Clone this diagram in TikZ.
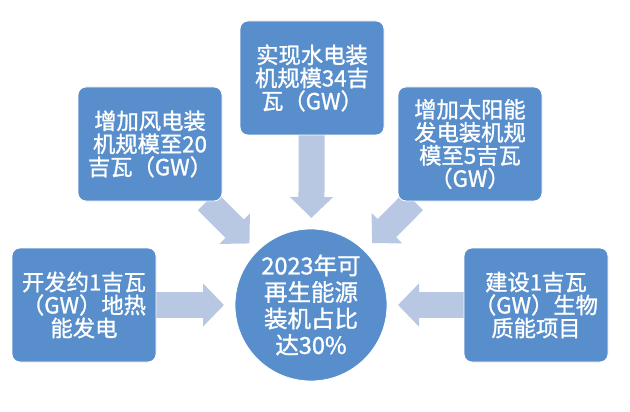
\documentclass[tikz,border=0pt]{standalone}
\usepackage{fontspec}
\setmainfont{Noto Sans CJK SC}[FakeBold=1.2]
\usetikzlibrary{arrows.meta}
\usepackage{xcolor}
\definecolor{boxblue}{RGB}{88,142,203}
\definecolor{flowblue}{RGB}{184,199,226}
\pgfdeclarelayer{background}
\pgfsetlayers{background,main}

\begin{document}
\begin{tikzpicture}[x=1pt,y=-1pt,
  goalbox/.style={rectangle, rounded corners=8pt, fill=boxblue, draw=white, line width=0.8pt,
    minimum width=144pt, minimum height=114pt, inner sep=0pt, outer sep=0pt, align=center,
    text=white, font=\fontsize{22.3}{23}\selectfont},
  target/.style={circle, fill=boxblue, draw=white, line width=0.8pt, minimum size=152pt,
    inner sep=0pt, outer sep=0pt, align=center, text=white, font=\fontsize{23.5}{26.5}\selectfont},
  flow/.style={line width=26pt, flowblue, -{Triangle[length=21pt,width=42pt]}, shorten >=11pt}]
  \useasboundingbox (0,0) rectangle (630,412);

  \node[target] (goal) at (311,305) {2023年可\\再生能源\\装机占比\\达30\%};

  \node[goalbox] (hydro) at (312,78) {实现水电装\\机规模34吉\\瓦（GW）};
  \node[goalbox] (wind) at (150,144) {增加风电装\\机规模至20\\吉瓦（GW）};
  \node[goalbox] (solar) at (470,144) {增加太阳能\\发电装机规\\模至5吉瓦\\（GW）};
  \node[goalbox] (geo) at (84,305) {开发约1吉瓦\\（GW）地热\\能发电};
  \node[goalbox] (bio) at (536,305) {建设1吉瓦\\（GW）生物\\质能项目};

  % block arrows into the circle
  \begin{pgfonlayer}{background}
    \foreach \src in {hydro,wind,solar,geo,bio}
      \draw[flow] (\src) -- (goal);
  \end{pgfonlayer}

\end{tikzpicture}
\end{document}
